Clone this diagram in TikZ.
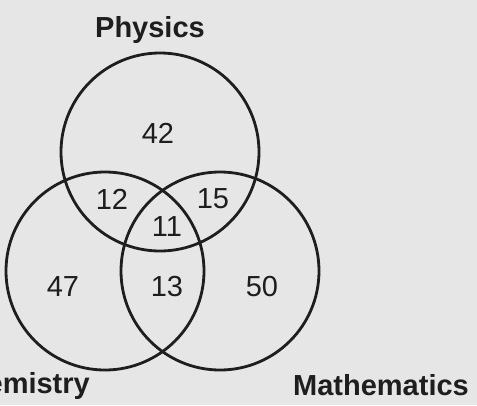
\documentclass[tikz,border=0pt]{standalone}
\usepackage{fontspec}
\setsansfont{Liberation Sans}
\definecolor{vnbg}{HTML}{E6E6E6}
\definecolor{vnink}{HTML}{1E1E1E}

\begin{document}
\begin{tikzpicture}[
  x=1pt, y=-1pt,
  set/.style={
    circle, draw=vnink, line width=2.8pt,
    minimum size=198pt, inner sep=0pt},
  count/.style={
    font=\sffamily\fontsize{29}{31}\selectfont,
    text=vnink, inner sep=0pt},
  title/.style={
    font=\sffamily\bfseries\fontsize{29}{32}\selectfont,
    text=vnink, inner sep=0pt},
]

  %% ---- Marco ----
  \useasboundingbox (0,0) rectangle (477,405);
  \clip (0,0) rectangle (477,405);
  \fill[vnbg] (0,0) rectangle (477,405);

  %% ---- Conjuntos ----
  \node[set] (phys) at (160,152) {};
  \node[set] (chem) at (105,271) {};
  \node[set] (math) at (220,271) {};

  %% ---- Cardinales por region ----
  \node[count] (onlyP) at (158,133) {42};
  \node[count] (pc)    at (112,199) {12};
  \node[count] (pm)    at (213,199) {15};
  \node[count] (pcm)   at (167,227) {11};
  \node[count] (onlyC) at (63,287)  {47};
  \node[count] (cm)    at (167,287) {13};
  \node[count] (onlyM) at (262,287) {50};

  %% ---- Nombres de los conjuntos ----
  \node[title, anchor=base]      (tphys) at (150,37)  {Physics};
  \node[title, anchor=base east] (tchem) at (90,393)  {Chemistry};
  \node[title, anchor=base]      (tmath) at (381,395) {Mathematics};

\end{tikzpicture}
\end{document}
